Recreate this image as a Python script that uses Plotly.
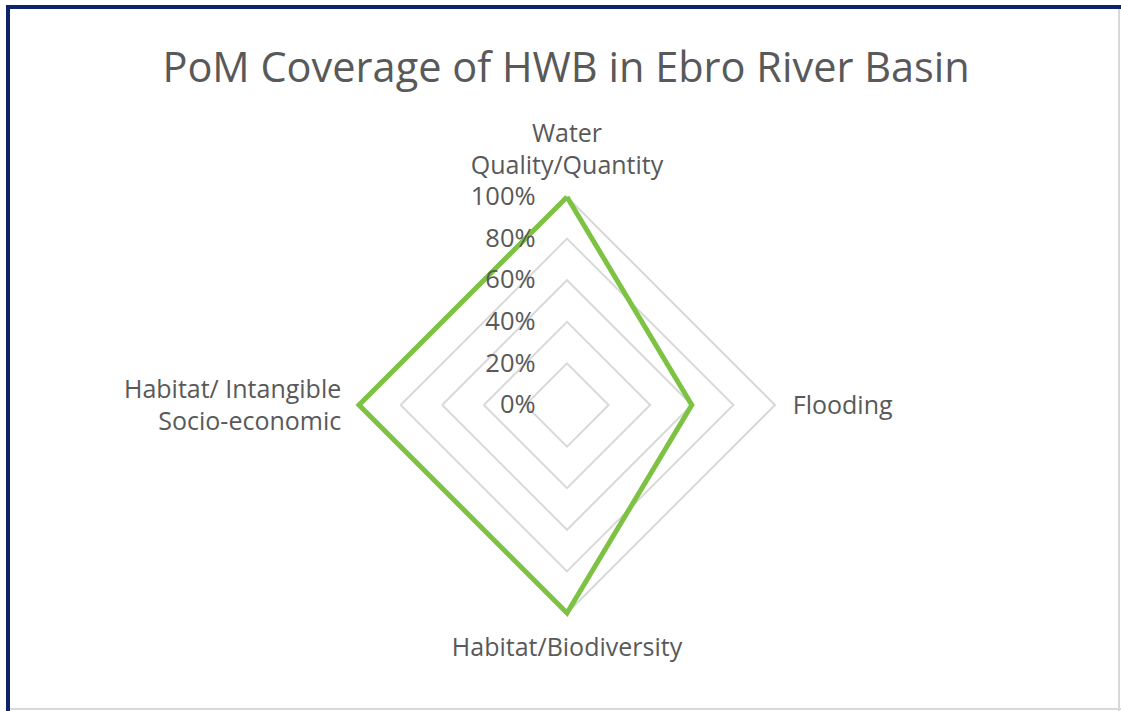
import plotly.graph_objects as go

categories = ["Water<br>Quality/Quantity", "Flooding", "Habitat/Biodiversity",
              "Habitat/ Intangible<br>Socio-economic"]
coverage = [1.0, 0.6, 1.0, 1.0]
tick_values = [0, 0.2, 0.4, 0.6, 0.8, 1.0]
tick_labels = ["0%", "20%", "40%", "60%", "80%", "100%"]
title_text = "PoM Coverage of HWB in Ebro River Basin"

W, H = 1121, 711
cx, cy, R100 = 567, 405, 208
rmax = 1.03
R = R100 * rmax

fig = go.Figure()
fig.add_trace(go.Scatterpolar(
    r=coverage + coverage[:1],
    theta=categories + categories[:1],
    mode="lines",
    line=dict(color="#7dc242", width=5),
    cliponaxis=False,
    hoverinfo="skip",
    showlegend=False,
))

fig.update_layout(
    width=W, height=H,
    margin=dict(l=0, r=0, t=0, b=0),
    paper_bgcolor="white",
    font=dict(family="Open Sans, sans-serif", color="#595959"),
    title=dict(text=title_text, x=0.505, xanchor="center", y=1 - 67 / H, yanchor="middle",
               font=dict(size=41.5, color="#595959")),
    polar=dict(
        domain=dict(x=[(cx - R) / W, (cx + R) / W], y=[(H - cy - R) / H, (H - cy + R) / H]),
        gridshape="linear",
        bgcolor="white",
        angularaxis=dict(
            rotation=90, direction="clockwise",
            showgrid=False, showline=False,
            ticks="outside", ticklen=6, tickcolor="rgba(0,0,0,0)",
            tickfont=dict(size=25, color="#595959"),
        ),
        radialaxis=dict(
            range=[0, rmax], tickvals=tick_values, ticktext=tick_labels,
            angle=90, tickangle=90, side="counterclockwise",
            showline=False, showgrid=True, gridcolor="#d9d9d9", gridwidth=1.5,
            ticks="outside", ticklen=22, tickcolor="rgba(0,0,0,0)",
            tickfont=dict(size=25.5, color="#595959"),
        ),
    ),
    shapes=[
        dict(type="line", xref="paper", yref="paper", x0=8 / W, x1=8 / W, y0=0, y1=1 - 5 / H,
             line=dict(color="#0d2466", width=4)),
        dict(type="line", xref="paper", yref="paper", x0=6 / W, x1=1, y0=1 - 7 / H, y1=1 - 7 / H,
             line=dict(color="#0d2466", width=4)),
        dict(type="line", xref="paper", yref="paper", x0=1 - 2 / W, x1=1 - 2 / W, y0=0, y1=1 - 9 / H,
             line=dict(color="#d9d9d9", width=2)),
        dict(type="line", xref="paper", yref="paper", x0=10 / W, x1=1, y0=2 / H, y1=2 / H,
             line=dict(color="#d9d9d9", width=2)),
    ],
)

fig.write_html("out.html", config={"displayModeBar": False},
               post_script="document.body.style.margin='0';document.body.style.overflow='hidden';")
